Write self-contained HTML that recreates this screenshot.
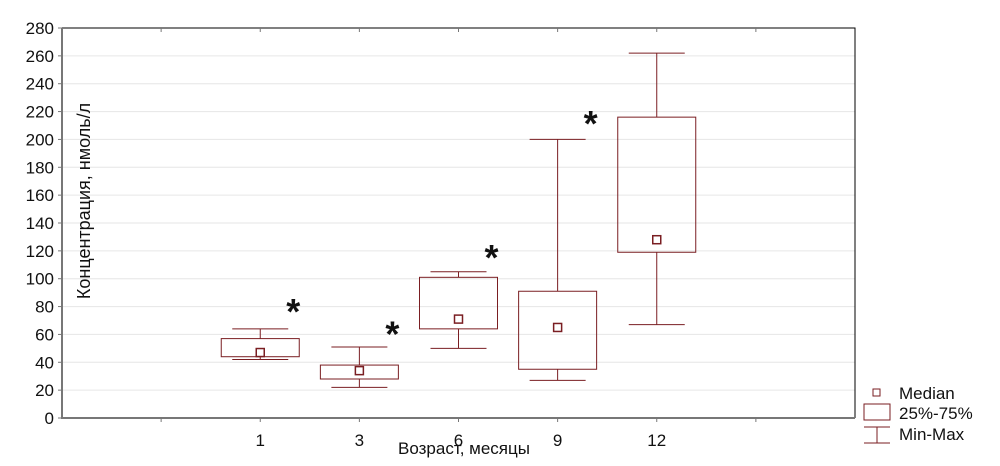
<!DOCTYPE html>
<html><head><meta charset="utf-8"><style>
body{margin:0;background:#fff;width:1000px;height:461px;overflow:hidden;font-family:"Liberation Sans",sans-serif}
svg text{font-family:"Liberation Sans",sans-serif}
</style></head><body>
<svg id="c" width="1000" height="461"></svg>
<script>
const categories=["1","3","6","9","12"];
const slots=[2,3,4,5,6];
const mins=[42,22,50,27,67];
const q1s=[44,28,64,35,119];
const medians=[47,34,71,65,128];
const q3s=[57,38,101,91,216];
const maxs=[64,51,105,200,262];
const starVals=[81,65,120,216,null];
const yTicks=[0,20,40,60,80,100,120,140,160,180,200,220,240,260,280];
const L=62,R=855,T=28,B=418,C="#7a1e22";
const y=v=>B-(v/280)*(B-T);
const x=s=>L+s*(R-L)/8;
const svg=document.getElementById('c');
const NS="http://www.w3.org/2000/svg";
function mk(t,a,p){const e=document.createElementNS(NS,t);for(const k in a)e.setAttribute(k,a[k]);(p||svg).appendChild(e);return e;}
yTicks.forEach(v=>{
 if(v>0&&v<280){const g=mk('line',{x1:L,x2:R,y1:y(v),y2:y(v),stroke:'#e6e6e6','stroke-width':1});
 
 }
 const tk=mk('line',{x1:L-4,x2:L,y1:y(v),y2:y(v),stroke:'#777'});
 
 
 const t=mk('text',{x:L-8,y:y(v)+6,'text-anchor':'end','font-size':17,fill:'#111'});t.textContent=v;
 
 
});
const fr=mk('path',{d:`M${L} ${T}H${R}V${B}`,fill:'none',stroke:'#000','stroke-width':1});


const ax=mk('path',{d:`M${L} ${T}V${B}H${R}`,fill:'none',stroke:'#777','stroke-width':2});


for(let s=1;s<8;s++){
 const a=mk('line',{x1:x(s),x2:x(s),y1:B,y2:B+4,stroke:'#777'});
 
 
 const b=mk('line',{x1:x(s),x2:x(s),y1:T,y2:T+4,stroke:'#777'});
 
 
}
categories.forEach((c,i)=>{
 const cx=x(slots[i]);
 const g=mk('g',{});
 
 
 mk('line',{x1:cx,x2:cx,y1:y(maxs[i]),y2:y(q3s[i]),stroke:C},g);
 mk('line',{x1:cx,x2:cx,y1:y(q1s[i]),y2:y(mins[i]),stroke:C},g);
 mk('line',{x1:cx-28,x2:cx+28,y1:y(maxs[i]),y2:y(maxs[i]),stroke:C},g);
 mk('line',{x1:cx-28,x2:cx+28,y1:y(mins[i]),y2:y(mins[i]),stroke:C},g);
 mk('rect',{x:cx-39,y:y(q3s[i]),width:78,height:y(q1s[i])-y(q3s[i]),fill:'none',stroke:C},g);
 mk('rect',{x:cx-4,y:y(medians[i])-4,width:8,height:8,fill:'none',stroke:C,'stroke-width':1.5},g);
 const t=mk('text',{x:cx,y:B+28,'text-anchor':'middle','font-size':17,fill:'#111'});t.textContent=c;
 
 
 if(starVals[i]!=null){
  const s=mk('text',{x:cx+33,y:y(starVals[i])+19,'text-anchor':'middle','font-size':36,'font-weight':'bold',fill:'#111'});s.textContent='*';
  
  
 }
});
const yt=mk('text',{transform:'translate(90,201) rotate(-90)','text-anchor':'middle','font-size':18,fill:'#111'});yt.textContent='Концентрация, нмоль/л';


const xt=mk('text',{x:464,y:454,'text-anchor':'middle','font-size':17,fill:'#111'});xt.textContent='Возраст, месяцы';


const lg=mk('g',{});


mk('rect',{x:873,y:389,width:7,height:7,fill:'none',stroke:C},lg);
mk('rect',{x:864,y:404,width:26,height:16,fill:'none',stroke:C},lg);
mk('line',{x1:864,x2:890,y1:427,y2:427,stroke:C},lg);
mk('line',{x1:864,x2:890,y1:443,y2:443,stroke:C},lg);
mk('line',{x1:877,x2:877,y1:427,y2:443,stroke:C},lg);
[['Median',399],['25%-75%',419],['Min-Max',440]].forEach(([t,yy])=>{const e=mk('text',{x:899,y:yy,'font-size':17,fill:'#111'},lg);e.textContent=t;
 
 });
</script>
</body></html>
